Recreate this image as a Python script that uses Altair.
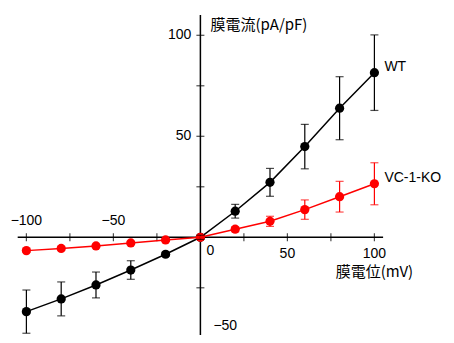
import altair as alt
import pandas as pd

# ---- data ----
volt = [-100, -80, -60, -40, -20, 0, 20, 40, 60, 80, 100]
wt_mean = [-36.8, -30.5, -23.6, -16.2, -8.4, 0.0, 12.9, 27.2, 44.9, 63.9, 81.5]
wt_sem = [10.7, 8.4, 6.4, 4.6, 1.0, 1.0, 3.4, 6.9, 11.0, 15.6, 18.7]
ko_mean = [-6.6, -5.5, -4.3, -2.8, -1.3, 0.0, 4.0, 7.9, 13.7, 20.1, 26.5]
ko_sem = [0.8, 0.8, 0.8, 0.8, 0.8, 0.5, 1.2, 2.5, 4.8, 7.6, 10.4]
series_names = ["WT", "VC-1-KO"]
series_colors = ["#000000", "#ff0000"]

x_major = [-100, -50, 50, 100]
x_minor = [-75, -25, 25, 75]
y_major = [-50, 50, 100]
y_minor = [-25, 25, 75]
x_axis_ends = [-105, 105]
y_axis_ends = [-50, 110]
x_title = "膜電位(mV)"
y_title = "膜電流(pA/pF)"

X_DOMAIN = [-110.57, 141.15]
Y_DOMAIN = [-48.37, 113.51]

def fmt(v):
    return ("\u2212" + str(abs(v))) if v < 0 else str(v)

rows = []
for name, mean, sem in [(series_names[0], wt_mean, wt_sem), (series_names[1], ko_mean, ko_sem)]:
    for v, m, s in zip(volt, mean, sem):
        rows.append({"series": name, "v": v, "i": m, "lo": m - s, "hi": m + s})
df = pd.DataFrame(rows)

xs = alt.Scale(domain=X_DOMAIN, nice=False, zero=False)
ys = alt.Scale(domain=Y_DOMAIN, nice=False, zero=False)
col = alt.Color("series:N", scale=alt.Scale(domain=series_names, range=series_colors), legend=None)

def X(f):
    return alt.X(f, scale=xs, axis=None)

def Y(f):
    return alt.Y(f, scale=ys, axis=None)

# axes lines
xline = alt.Chart(pd.DataFrame({"x": [x_axis_ends[0]], "x2": [x_axis_ends[1]], "y": [0]})).mark_rule(
    color="black", strokeWidth=1.5).encode(x=X("x:Q"), x2="x2:Q", y=Y("y:Q"))
yline = alt.Chart(pd.DataFrame({"y": [y_axis_ends[0]], "y2": [y_axis_ends[1]], "x": [0]})).mark_rule(
    color="black", strokeWidth=1.5).encode(y=Y("y:Q"), y2="y2:Q", x=X("x:Q"))

xt = pd.DataFrame({"x": x_major + x_minor, "y": 0})
xticks = alt.Chart(xt).mark_tick(orient="vertical", color="black", size=8, thickness=1.2).encode(
    x=X("x:Q"), y=Y("y:Q"))
yt = pd.DataFrame({"y": y_major + y_minor, "x": 0})
yticks = alt.Chart(yt).mark_tick(orient="horizontal", color="black", size=8, thickness=1.2).encode(
    x=X("x:Q"), y=Y("y:Q"))

FONT = "Liberation Sans"
JFONT = "Noto Sans CJK JP"

def textlayer(xv, yv, tv, **kw):
    d = pd.DataFrame({"x": xv, "y": yv, "t": tv})
    return alt.Chart(d).mark_text(baseline="middle", color="black", **kw).encode(
        x=X("x:Q"), y=Y("y:Q"), text="t:N")

neg_x = [v for v in x_major if v < 0]
pos_x = [v for v in x_major if v > 0]
pos_y = [v for v in y_major if v > 0]
neg_y = [v for v in y_major if v < 0]

lab_xneg = textlayer(neg_x, [0] * len(neg_x), [fmt(v) for v in neg_x],
                     font=FONT, fontSize=14, align="center", dy=-16)
lab_xpos = textlayer(pos_x, [0] * len(pos_x), [fmt(v) for v in pos_x],
                     font=FONT, fontSize=14, align="center", dy=17)
lab_ypos = textlayer([0] * len(pos_y), pos_y, [fmt(v) for v in pos_y],
                     font=FONT, fontSize=14, align="right", dx=-9)
lab_yneg = textlayer([0] * len(neg_y), neg_y, [fmt(v) for v in neg_y],
                     font=FONT, fontSize=14, align="left", dx=13, dy=-12)
lab_zero = textlayer([0], [0], ["0"], font=FONT, fontSize=14, align="left", dx=6, dy=14)

ytitle = textlayer([0], [y_axis_ends[1]], [y_title], font=JFONT, fontSize=15,
                   align="left", dx=10, dy=10)
xtitle = textlayer([x_major[-1]], [0], [x_title], font=JFONT, fontSize=15,
                   align="center", dy=35)

base = alt.Chart(df).encode(x=X("v:Q"), color=col)

layers = [xline, yline, xticks, yticks, lab_xneg, lab_xpos, lab_ypos, lab_yneg, lab_zero, ytitle, xtitle]
for name in series_names:
    b = base.transform_filter(alt.datum.series == name)
    layers.append(b.mark_line(strokeWidth=1.5).encode(y=Y("i:Q")))
    layers.append(b.mark_circle(size=85, opacity=1).encode(y=Y("i:Q")))
for name in series_names:
    b = base.transform_filter(alt.datum.series == name)
    layers.append(b.mark_rule(strokeWidth=1.2).encode(y=Y("lo:Q"), y2="hi:Q"))
    layers.append(b.mark_tick(orient="horizontal", size=8, thickness=1.2).encode(y=Y("lo:Q")))
    layers.append(b.mark_tick(orient="horizontal", size=8, thickness=1.2).encode(y=Y("hi:Q")))

last = df[df["v"] == volt[-1]]
labels = alt.Chart(last).mark_text(font=FONT, fontSize=14, align="left", baseline="middle",
                                   dx=10, dy=-6, color="black").encode(
    x=X("v:Q"), y=Y("i:Q"), text="series:N")
layers.append(labels)

chart = alt.layer(*layers).properties(
    width=438, height=327, autosize=alt.AutoSizeParams(type="none"), padding=0
).configure_view(stroke=None)

chart.save("out.html", embed_options={"renderer": "svg", "actions": False})
